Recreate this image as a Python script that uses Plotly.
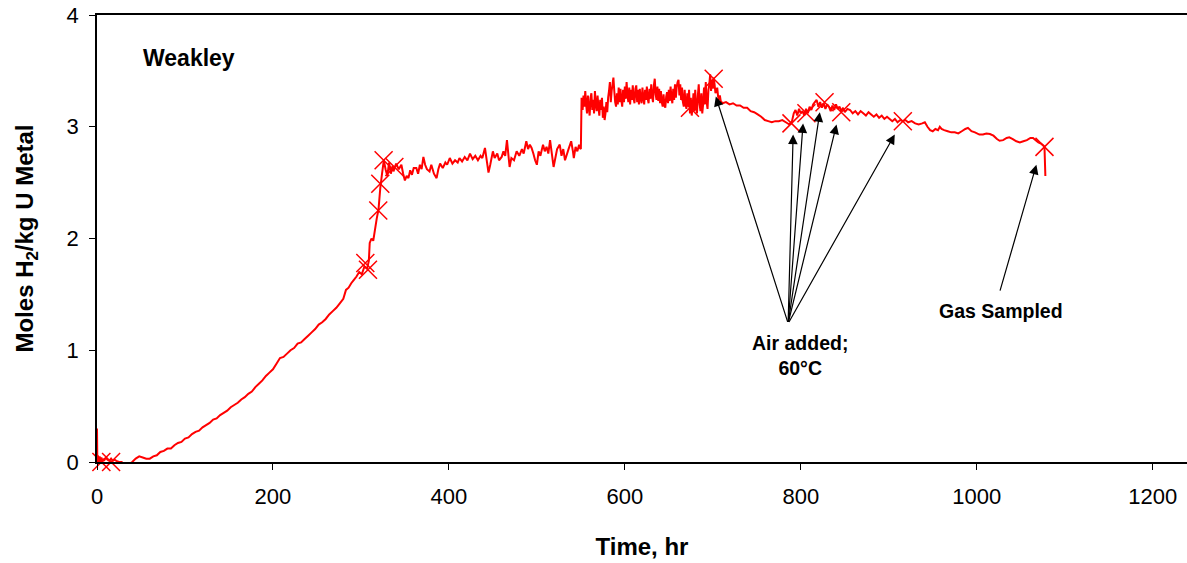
import plotly.graph_objects as go

# ---- data ----
# 0 - 328 hr : induction and rise
T_RISE = [
    0, 0.5, 1, 2, 3, 4, 5, 6, 7, 8, 10, 12, 14, 16, 18, 20, 22, 25, 28, 31, 34, 37, 40, 44, 48, 52, 56, 60,
    64, 68, 72, 76, 80, 84, 88, 92, 96, 100, 104, 108, 112, 116, 120, 124, 128, 132, 136, 140, 144, 148,
    152, 156, 160, 164, 168, 172, 176, 180, 184, 188, 192, 196, 200, 204, 208, 212, 216, 220, 224, 228,
    232, 236, 240, 244, 248, 252, 256, 260, 264, 268, 272, 276, 280, 283, 286, 289, 292, 295, 298, 301,
    304, 307, 309, 310, 312, 314, 316, 318, 320, 322, 324, 326, 328,
]
Y_RISE = [
    0.30, -0.10, 0.06, -0.02, 0.05, 0.00, 0.04, -0.01, 0.03, 0.01, 0.04, 0.02, 0.01, 0.03, 0.01, 0.02, 0.01, 0.00, 0.00, -0.02, -0.03, -0.02, 0.00, 0.03, 0.05, 0.04, 0.03, 0.03,
    0.05, 0.06, 0.09, 0.10, 0.12, 0.12, 0.15, 0.17, 0.18, 0.21, 0.22, 0.25, 0.27, 0.28, 0.31, 0.33, 0.35, 0.38, 0.39, 0.42, 0.44, 0.46,
    0.49, 0.51, 0.53, 0.56, 0.58, 0.61, 0.63, 0.67, 0.70, 0.73, 0.77, 0.80, 0.83, 0.88, 0.93, 0.94, 0.97, 1.00, 1.02, 1.06,
    1.07, 1.10, 1.13, 1.16, 1.19, 1.23, 1.25, 1.28, 1.32, 1.35, 1.38, 1.42, 1.46, 1.54, 1.56, 1.60, 1.63, 1.66, 1.70, 1.68,
    1.75, 1.73, 1.80, 1.96, 2.00, 1.98, 2.08, 2.18, 2.26, 2.45, 2.58, 2.70, 2.62,
]
# 330 - 550.8 hr : first plateau
T_PLAT1 = [
    330, 332, 334, 336, 337, 340, 343, 346, 348, 350, 352, 354, 356, 358, 360, 363, 365, 367, 369, 371,
    373, 375, 378, 380, 383, 386, 388, 390, 393, 396, 398, 401, 404, 407, 410, 412, 415, 418, 421, 424,
    427, 430, 433, 436, 438, 441, 443, 445, 447, 450, 452, 455, 457, 460, 462, 464, 466, 468, 469, 471,
    474, 477, 480, 483, 485, 488, 490, 492, 494, 496, 498, 500, 502, 504, 507, 509, 511, 513, 515, 517,
    519, 521, 523, 526, 528, 530, 532, 534, 536, 539, 541, 542, 544, 546, 548, 549, 550, 550.8,
]
Y_PLAT1 = [
    2.56, 2.68, 2.58, 2.65, 2.60, 2.67, 2.62, 2.66, 2.58, 2.52, 2.56, 2.54, 2.61, 2.57, 2.63, 2.63, 2.58, 2.66, 2.62, 2.73,
    2.66, 2.62, 2.60, 2.66, 2.58, 2.54, 2.62, 2.67, 2.63, 2.68, 2.66, 2.72, 2.67, 2.70, 2.68, 2.72, 2.69, 2.73, 2.70, 2.76,
    2.71, 2.74, 2.70, 2.74, 2.72, 2.81, 2.70, 2.59, 2.66, 2.78, 2.72, 2.76, 2.70, 2.73, 2.78, 2.74, 2.88, 2.72, 2.64, 2.72,
    2.70, 2.78, 2.74, 2.80, 2.76, 2.87, 2.80, 2.84, 2.81, 2.76, 2.70, 2.66, 2.78, 2.74, 2.84, 2.78, 2.82, 2.76, 2.88, 2.76,
    2.64, 2.72, 2.80, 2.84, 2.74, 2.80, 2.70, 2.75, 2.80, 2.87, 2.78, 2.72, 2.82, 2.78, 2.84, 2.81, 2.80, 3.25,
]
# 551 - 711 hr : second plateau (noisy)
T_PLAT2 = [
    551, 552, 553, 554, 555, 556, 557, 558, 559, 560, 561, 562, 563, 564, 565, 566, 567, 568, 569, 570,
    571, 572, 573, 574, 575, 576, 577, 578, 579, 580, 581, 582, 583, 584, 585, 586, 587, 588, 589, 590,
    591, 592, 593, 594, 595, 596, 597, 598, 599, 600, 601, 602, 603, 604, 605, 606, 607, 608, 609, 610,
    611, 612, 613, 614, 615, 616, 617, 618, 619, 620, 621, 622, 623, 624, 625, 626, 627, 628, 629, 630,
    631, 632, 633, 634, 635, 636, 637, 638, 639, 640, 641, 642, 643, 644, 645, 646, 647, 648, 649, 650,
    651, 652, 653, 654, 655, 656, 657, 658, 659, 660, 661, 662, 663, 664, 665, 666, 667, 668, 669, 670,
    671, 672, 673, 674, 675, 676, 677, 678, 679, 680, 681, 682, 683, 684, 685, 686, 687, 688, 689, 690,
    691, 692, 693, 694, 695, 696, 697, 698, 699, 700, 701, 702, 703, 704, 705, 706, 707, 708, 709, 710, 711,
]
Y_PLAT2 = [
    3.25, 3.15, 3.28, 3.18, 3.32, 3.20, 3.12, 3.28, 3.17, 3.10, 3.26, 3.30, 3.15, 3.24, 3.12, 3.32, 3.20, 3.14, 3.28, 3.18,
    3.10, 3.24, 3.15, 3.26, 3.08, 3.18, 3.06, 3.12, 3.22, 3.13, 3.26, 3.32, 3.40, 3.22, 3.32, 3.38, 3.44, 3.32, 3.22, 3.18,
    3.30, 3.20, 3.35, 3.22, 3.34, 3.24, 3.18, 3.33, 3.22, 3.36, 3.25, 3.40, 3.28, 3.22, 3.35, 3.20, 3.33, 3.24, 3.37, 3.25,
    3.21, 3.34, 3.37, 3.22, 3.33, 3.20, 3.34, 3.25, 3.21, 3.35, 3.26, 3.20, 3.33, 3.24, 3.36, 3.25, 3.21, 3.34, 3.25, 3.38,
    3.27, 3.22, 3.37, 3.43, 3.29, 3.24, 3.36, 3.23, 3.34, 3.21, 3.32, 3.22, 3.18, 3.29, 3.19, 3.17, 3.27, 3.31, 3.21, 3.33,
    3.23, 3.36, 3.26, 3.21, 3.34, 3.24, 3.38, 3.26, 3.36, 3.40, 3.42, 3.28, 3.38, 3.24, 3.35, 3.22, 3.18, 3.33, 3.20, 3.16,
    3.30, 3.18, 3.33, 3.12, 3.26, 3.10, 3.18, 3.30, 3.14, 3.33, 3.18, 3.12, 3.28, 3.38, 3.20, 3.14, 3.30, 3.12, 3.20, 3.35,
    3.20, 3.40, 3.22, 3.16, 3.33, 3.38, 3.47, 3.32, 3.42, 3.34, 3.44, 3.38, 3.30, 3.32, 3.35, 3.27, 3.24, 3.28, 3.23, 3.22, 3.21,
]
# 715 - 1078 hr : slow decline with air additions
T_DECL = [
    715, 719, 723, 727, 731, 735, 739, 743, 747, 751, 755, 759, 763, 767, 771, 775, 779, 783, 787, 790,
    792, 794, 796, 798, 800, 802, 804, 806, 808, 810, 812, 814, 816, 818, 820, 822, 824, 826, 828, 830,
    832, 834, 836, 838, 840, 842, 844, 846, 848, 850, 853, 856, 859, 862, 865, 868, 871, 874, 877, 880,
    883, 886, 889, 892, 895, 898, 901, 904, 907, 910, 913, 916, 919, 922, 926, 930, 934, 938, 941, 944,
    947, 950, 953, 956, 958, 960, 963, 967, 971, 975, 979, 983, 987, 990, 994, 998, 1003, 1007, 1011, 1015,
    1019, 1023, 1026, 1030, 1034, 1037, 1041, 1045, 1049, 1053, 1057, 1061, 1064, 1067, 1070, 1073, 1076,
    1077, 1078,
]
Y_DECL = [
    3.22, 3.20, 3.21, 3.19, 3.19, 3.17, 3.17, 3.14, 3.13, 3.11, 3.09, 3.06, 3.05, 3.04, 3.05, 3.05, 3.06, 3.04, 3.02, 3.05,
    3.12, 3.15, 3.10, 3.16, 3.12, 3.14, 3.10, 3.16, 3.12, 3.18, 3.15, 3.20, 3.22, 3.24, 3.18, 3.22, 3.17, 3.21, 3.16, 3.20,
    3.18, 3.14, 3.19, 3.15, 3.20, 3.16, 3.18, 3.14, 3.17, 3.13, 3.16, 3.15, 3.12, 3.14, 3.11, 3.14, 3.12, 3.10, 3.13, 3.11,
    3.09, 3.11, 3.08, 3.10, 3.07, 3.09, 3.07, 3.05, 3.07, 3.04, 3.06, 3.05, 3.06, 3.04, 3.05, 3.03, 3.02, 3.03, 3.04, 3.00,
    2.97, 2.96, 2.98, 2.97, 3.00, 2.98, 2.97, 2.96, 2.95, 2.95, 2.94, 2.96, 2.98, 2.99, 2.96, 2.95, 2.93, 2.93, 2.94, 2.935,
    2.92, 2.89, 2.875, 2.88, 2.90, 2.905, 2.89, 2.87, 2.86, 2.87, 2.88, 2.90, 2.90, 2.88, 2.86, 2.85, 2.83,
    2.82, 2.56,
]

MARK_T = [5, 16, 305, 308, 319.7, 322, 325.8, 338, 674, 701, 789.4, 806.4, 827, 846, 916, 1077]
MARK_Y = [0.0, 0.0, 1.78, 1.72, 2.25, 2.49, 2.70, 2.64, 3.17, 3.43, 3.03, 3.12, 3.22, 3.13, 3.05, 2.82]

AIR_TAIL = (785.6, 1.24)
AIR_HEADS_T = [703.4, 791.3, 802.6, 821.6, 840.6, 906.8]
AIR_HEADS_Y = [3.27, 2.93, 3.03, 3.13, 3.02, 2.93]
GAS_TAIL = (1026, 1.52)
GAS_HEAD = (1067.8, 2.66)

X_TICKS = [0, 200, 400, 600, 800, 1000, 1200]
Y_TICKS = [0, 1, 2, 3, 4]

TIME_HR = T_RISE + T_PLAT1 + T_PLAT2 + T_DECL
H2_MOLES = Y_RISE + Y_PLAT1 + Y_PLAT2 + Y_DECL

FONT = "Liberation Sans, Arial, sans-serif"
RED = "#ff0000"

fig = go.Figure()
fig.add_trace(go.Scatter(x=TIME_HR, y=H2_MOLES, mode="lines",
                         line=dict(color=RED, width=2, simplify=False),
                         showlegend=False, hoverinfo="skip"))
fig.add_trace(go.Scatter(x=MARK_T, y=MARK_Y, mode="markers", cliponaxis=False,
                         marker=dict(symbol="x-thin", size=18, color=RED,
                                     line=dict(color=RED, width=1.5)),
                         showlegend=False))

annotations = []
for ht, hy in zip(AIR_HEADS_T, AIR_HEADS_Y):
    annotations.append(dict(x=ht, y=hy, ax=AIR_TAIL[0], ay=AIR_TAIL[1],
                            xref="x", yref="y", axref="x", ayref="y",
                            text="", showarrow=True, arrowhead=2, arrowsize=1.6,
                            arrowwidth=1.2, arrowcolor="black", standoff=0))
annotations.append(dict(x=GAS_HEAD[0], y=GAS_HEAD[1], ax=GAS_TAIL[0], ay=GAS_TAIL[1],
                        xref="x", yref="y", axref="x", ayref="y",
                        text="", showarrow=True, arrowhead=2, arrowsize=1.6,
                        arrowwidth=1.2, arrowcolor="black", standoff=0))
annotations.append(dict(x=798.9, y=0.957, xref="x", yref="y", showarrow=False,
                        text="<b>Air added;</b><br><b>60°C</b>", align="center",
                        font=dict(family=FONT, size=19.5, color="black")))
annotations.append(dict(x=1027.3, y=1.351, xref="x", yref="y", showarrow=False,
                        text="<b>Gas Sampled</b>",
                        font=dict(family=FONT, size=19.5, color="black")))
annotations.append(dict(x=50, y=3.615, xref="x", yref="y", showarrow=False,
                        xanchor="left", text="<b>Weakley</b>",
                        font=dict(family=FONT, size=23, color="black")))

fig.update_layout(
    width=1187, height=563,
    margin=dict(l=97, r=0, t=15, b=101),
    paper_bgcolor="white", plot_bgcolor="white",
    font=dict(family=FONT, color="black"),
    annotations=annotations,
    xaxis=dict(range=[0, 1239], tickvals=X_TICKS, ticks="outside", ticklen=6,
               tickwidth=1, tickcolor="black", showline=True, linecolor="black",
               linewidth=1.5, mirror=True, showgrid=False, zeroline=False,
               tickfont=dict(family=FONT, size=22, color="black"),
               ticklabelstandoff=8, automargin=False,
               title=dict(text="<b>Time, hr</b>", standoff=30,
                          font=dict(family=FONT, size=24, color="black"))),
    yaxis=dict(range=[0, 4], tickvals=Y_TICKS, ticks="outside", ticklen=6,
               tickwidth=1, tickcolor="black", showline=True, linecolor="black",
               linewidth=1.5, showgrid=False, zeroline=False,
               tickfont=dict(family=FONT, size=22, color="black"),
               ticklabelstandoff=6, automargin=False,
               title=dict(text="<b>Moles H<sub>2</sub>/kg U Metal</b>", standoff=26,
                          font=dict(family=FONT, size=24, color="black"))),
)

fig.write_html("out.html")
